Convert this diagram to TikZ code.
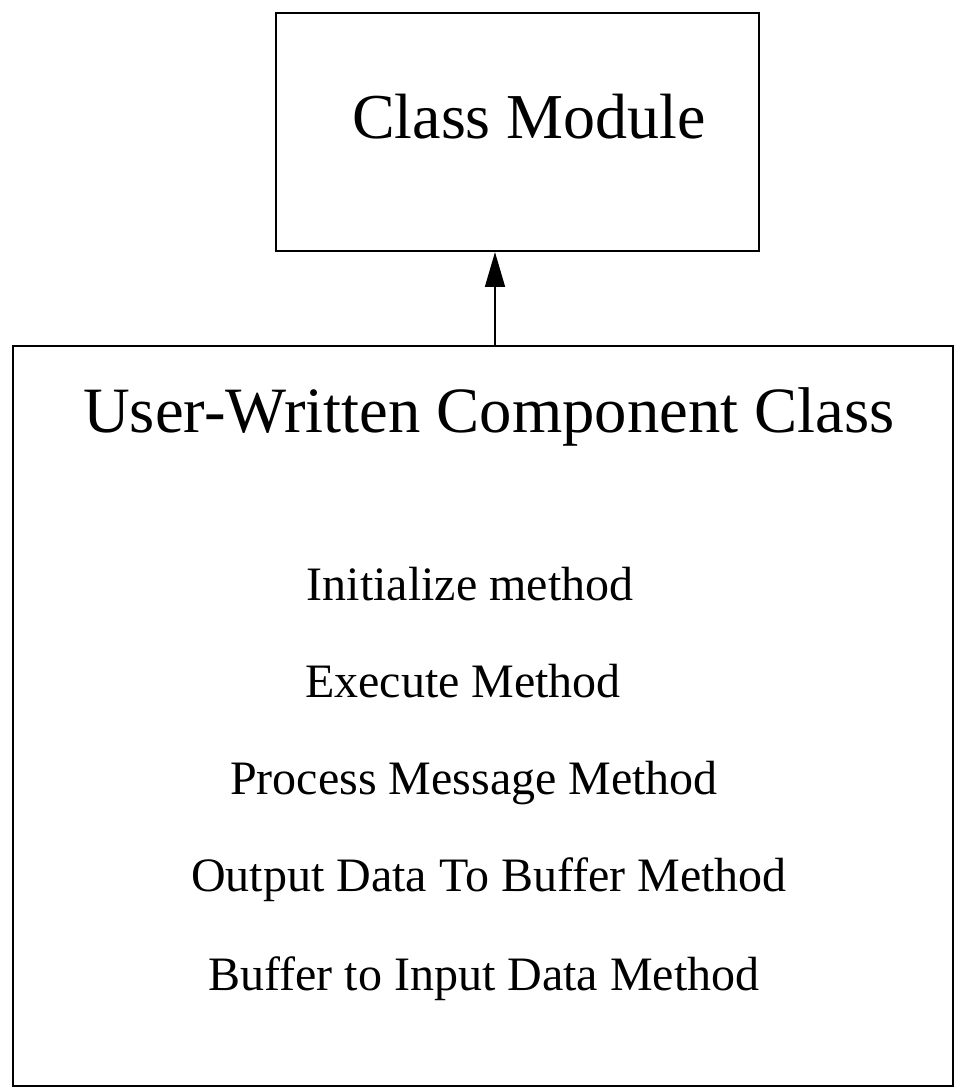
\documentclass[tikz,border=0pt]{standalone}
\usepackage{fontspec}
\setmainfont{Liberation Serif}
\usetikzlibrary{arrows.meta}
\begin{document}
\begin{tikzpicture}[x=0.75pt,y=-0.75pt,
  boxstyle/.style={draw,line width=1.6pt,inner sep=0pt,anchor=north west},
  titletext/.style={anchor=base,inner sep=0pt,font=\fontsize{48}{58}\selectfont},
  headtext/.style={anchor=base,inner sep=0pt,font=\fontsize{48.5}{58}\selectfont},
  methodtext/.style={anchor=base,inner sep=0pt,font=\fontsize{36}{43}\selectfont},
  link/.style={line width=1pt,-{Triangle[length=26pt,width=15pt]}}]
\useasboundingbox (0,0) rectangle (956,1089);
% upper class box
\node[boxstyle,minimum width=483*0.75pt,minimum height=238*0.75pt] (module) at (275,12) {};
\node[titletext] (moduletext) at (529,138) {Class Module};
% lower component box
\node[boxstyle,minimum width=940*0.75pt,minimum height=740*0.75pt] (component) at (12,345) {};
\node[headtext] (comptext) at (489,432) {User-Written Component Class};
\node[methodtext] (m1) at (470,600) {Initialize method};
\node[methodtext] (m2) at (463,697) {Execute Method};
\node[methodtext] (m3) at (474,794) {Process Message Method};
\node[methodtext] (m4) at (489,891) {Output Data To Buffer Method};
\node[methodtext] (m5) at (484,990) {Buffer to Input Data Method};
% inheritance arrow
\coordinate (ax) at (495,300);
\draw[link] (component.north -| ax) -- (module.south -| ax);
\end{tikzpicture}
\end{document}
